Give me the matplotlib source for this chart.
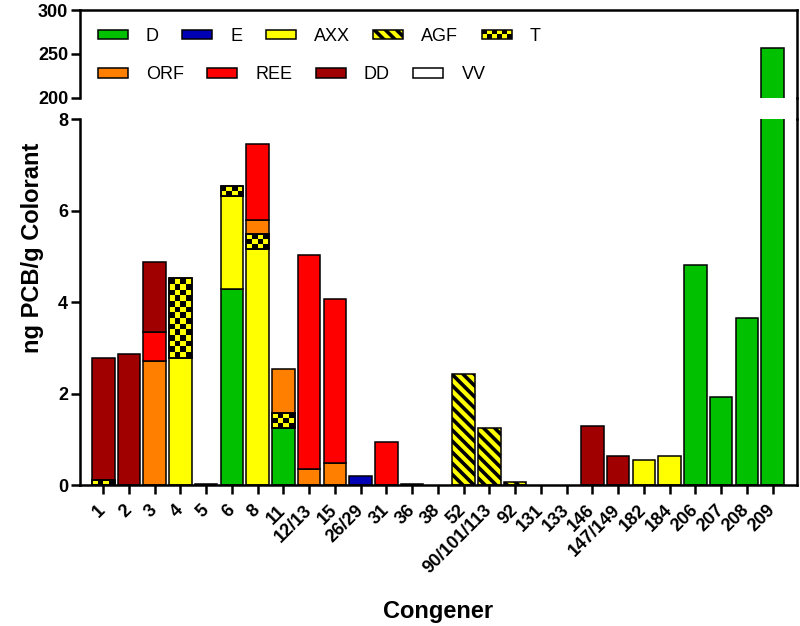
import numpy as np
import matplotlib.pyplot as plt
from matplotlib.patches import Patch, Rectangle
from matplotlib.legend_handler import HandlerBase
from matplotlib.lines import Line2D

plt.rcParams['font.family'] = 'Liberation Sans'
plt.rcParams['hatch.linewidth'] = 2.6

# data
congeners = ['1', '2', '3', '4', '5', '6', '8', '11', '12/13', '15', '26/29', '31', '36', '38',
             '52', '90/101/113', '92', '131', '133', '146', '147/149', '182', '184',
             '206', '207', '208', '209']
#            1     2     3     4     5     6     8     11    12/13 15    26/29 31    36    38
d_vals   = [0,    0,    0,    0,    0,    4.28, 0,    1.24, 0,    0,    0,    0,    0,    0,
            0,    0,    0,    0,    0,    0,    0,    0,    0,    4.80, 1.93, 3.64, 257]
e_vals   = [0,    0,    0,    0,    0,    0,    0,    0,    0,    0,    0.20, 0,    0,    0,
            0,    0,    0,    0,    0,    0,    0,    0,    0,    0,    0,    0,    0]
axx_vals = [0,    0,    0,    2.78, 0,    2.03, 5.15, 0,    0,    0,    0,    0,    0,    0,
            0,    0,    0,    0,    0,    0,    0,    0.55, 0.64, 0,    0,    0,    0]
agf_vals = [0,    0,    0,    0,    0,    0,    0,    0,    0,    0,    0,    0,    0,    0,
            2.42, 1.24, 0.07, 0,    0,    0,    0,    0,    0,    0,    0,    0,    0]
t_vals   = [0.12, 0,    0,    1.74, 0,    0.23, 0.33, 0.34, 0,    0,    0,    0,    0,    0,
            0,    0,    0,    0,    0,    0,    0,    0,    0,    0,    0,    0,    0]
orf_vals = [0,    0,    2.72, 0,    0,    0,    0.32, 0.96, 0.35, 0.48, 0,    0,    0,    0,
            0,    0,    0,    0,    0,    0,    0,    0,    0,    0,    0,    0,    0]
ree_vals = [0,    0,    0.63, 0,    0,    0,    1.65, 0,    4.68, 3.59, 0,    0.93, 0,    0,
            0,    0,    0,    0,    0,    0,    0,    0,    0,    0,    0,    0,    0]
dd_vals  = [2.66, 2.87, 1.52, 0,    0,    0,    0,    0,    0,    0,    0,    0,    0,    0,
            0,    0,    0,    0,    0,    1.28, 0.64, 0,    0,    0,    0,    0,    0]
vv_vals  = [0,    0,    0,    0,    0.03, 0,    0,    0,    0,    0,    0,    0,    0.02, 0,
            0,    0,    0,    0,    0,    0,    0,    0,    0,    0,    0,    0,    0]

# name, values, colour, hatch (stack order bottom -> top)
series = [
    ('D', d_vals, '#00C000', None),
    ('E', e_vals, '#0000B4', None),
    ('AXX', axx_vals, '#FFFF00', None),
    ('AGF', agf_vals, '#FFFF00', '\\\\\\'),
    ('T', t_vals, '#FFFF00', None),
    ('ORF', orf_vals, '#FF8000', None),
    ('REE', ree_vals, '#FF0000', None),
    ('DD', dd_vals, '#A00000', None),
    ('VV', vv_vals, 'white', None),
]

EDGE_LW = 1.1
SPINE_LW = 1.8


def add_checker(ax, x0, y0, w, h, nx, ny, transform=None):
    """black squares on a yellow box (the T pattern)"""
    arts = []
    for i in range(nx):
        for j in range(ny):
            if (i + j) % 2 == 1:
                r = Rectangle((x0 + i * w / nx, y0 + j * h / ny), w / nx, h / ny,
                              facecolor='black', lw=0, zorder=1.5)
                if transform is not None:
                    r.set_transform(transform)
                arts.append(r)
    outline = Rectangle((x0, y0), w, h, fill=False, edgecolor='black', lw=EDGE_LW, zorder=1.6)
    if transform is not None:
        outline.set_transform(transform)
    arts.append(outline)
    if ax is not None:
        for a in arts:
            ax.add_patch(a)
    return arts


class CheckerHandler(HandlerBase):
    def create_artists(self, legend, orig_handle, xdescent, ydescent, width, height, fontsize, trans):
        x0, y0 = -xdescent, -ydescent
        base = Rectangle((x0, y0), width, height, facecolor='#FFFF00', lw=0, transform=trans)
        return [base] + add_checker(None, x0, y0, width, height, 6, 2, transform=trans)


fig = plt.figure(figsize=(8, 6.26), dpi=100)
ax_bot = fig.add_axes([0.1, 0.2252, 0.8963, 0.5847])
ax_top = fig.add_axes([0.1, 0.844, 0.8963, 0.140])

x = np.arange(len(congeners))
width = 0.88

for ax in (ax_top, ax_bot):
    bottom = np.zeros(len(x))
    for name, vals, color, hatch in series:
        v = np.array(vals, dtype=float)
        m = v > 0
        ax.bar(x[m], v[m], width, bottom=bottom[m], color=color, edgecolor='black',
               lw=EDGE_LW, hatch=hatch)
        if name == 'T' and ax is ax_bot:
            for i in np.where(m)[0]:
                ny = max(1, int(round(v[i] / 0.125)))
                add_checker(ax, x[i] - width / 2, bottom[i], width, v[i], 4, ny)
        bottom += v

# bottom panel
ax_bot.set_xlim(-0.9, 26.95)
ax_bot.set_ylim(0, 8)
ax_bot.set_yticks([0, 2, 4, 6, 8])
ax_bot.set_xticks(x)
ax_bot.set_xticklabels(congeners, rotation=45, ha='right', va='center',
                       rotation_mode='anchor', fontweight='bold', fontsize=13)
ax_bot.spines['top'].set_visible(False)
ax_bot.tick_params(axis='x', length=6.5, width=SPINE_LW, pad=10)
ax_bot.tick_params(axis='y', length=6.5, width=SPINE_LW, pad=2, labelsize=13)
ax_bot.set_xlabel('Congener', fontsize=17, fontweight='bold')
ax_bot.xaxis.set_label_coords(0.5, -0.315)
ax_bot.set_ylabel('ng PCB/g Colorant', fontsize=17, fontweight='bold')
ax_bot.yaxis.set_label_coords(-0.05, 0.649)

# top panel
ax_top.set_xlim(-0.9, 26.95)
ax_top.set_ylim(200, 300)
ax_top.set_yticks([200, 250, 300])
ax_top.set_xticks([])
ax_top.spines['bottom'].set_visible(False)
ax_top.tick_params(axis='y', length=6.5, width=SPINE_LW, pad=2, labelsize=13)

for ax in (ax_top, ax_bot):
    for s in ax.spines.values():
        s.set_linewidth(SPINE_LW)
    plt.setp(ax.get_yticklabels(), fontweight='bold')

# right border runs through the gap
fig.add_artist(Line2D([0.9963, 0.9963], [0.2252 + 0.5847, 0.844], color='black',
                      lw=SPINE_LW, transform=fig.transFigure))

# legend, two independent rows
handles = {}
for name, vals, color, hatch in series:
    handles[name] = Patch(facecolor=color, edgecolor='black', lw=EDGE_LW, hatch=hatch, label=name)
leg_kw = dict(frameon=False, fontsize=13, handlelength=1.66, handleheight=0.45,
              handletextpad=1.0, columnspacing=1.3, borderpad=0, borderaxespad=0,
              loc='center left', handler_map={handles['T']: CheckerHandler()})
row1 = [handles[k] for k in ['D', 'E', 'AXX', 'AGF', 'T']]
row2 = [handles[k] for k in ['ORF', 'REE', 'DD', 'VV']]
leg1 = ax_top.legend(handles=row1, ncol=5, bbox_to_anchor=(0.025, 0.7), **leg_kw)
ax_top.add_artist(leg1)
ax_top.legend(handles=row2, ncol=4, bbox_to_anchor=(0.025, 0.26), **leg_kw)

fig.savefig('out.png', dpi=100)
